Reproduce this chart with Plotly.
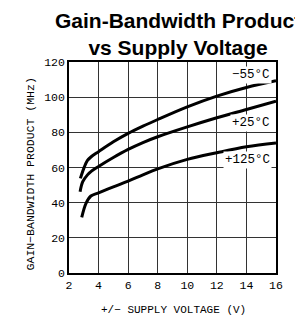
import plotly.graph_objects as go

# Data
x_m55 = [2.77, 3.04, 3.25, 3.5, 4, 5, 6, 7, 8, 10, 12, 14, 16]
y_m55 = [53.8, 60.4, 64.0, 66.1, 69.0, 74.6, 79.4, 83.5, 87.3, 94.5, 100.6, 105.5, 109.3]

x_25 = [2.75, 2.93, 3.25, 3.5, 4, 5, 6, 7, 8, 10, 12, 14, 16]
y_25 = [46.2, 51.9, 55.8, 57.8, 60.6, 65.7, 70.3, 74.2, 77.5, 83.1, 88.3, 93.0, 97.7]

x_125 = [2.86, 3.15, 3.48, 4, 5, 6, 7, 8, 10, 12, 14, 16]
y_125 = [31.6, 39.6, 43.8, 45.6, 49.0, 52.3, 55.8, 59.2, 64.6, 68.4, 71.8, 74.0]

series_labels = ["\u221255\u00b0C", "+25\u00b0C", "+125\u00b0C"]
label_y = [112.7, 85.5, 64.5]

x_ticks = [2, 4, 6, 8, 10, 12, 14, 16]
y_ticks = [0, 20, 40, 60, 80, 100, 120]

MONO = "Liberation Mono"

fig = go.Figure()
for xs, ys in [(x_m55, y_m55), (x_25, y_25), (x_125, y_125)]:
    fig.add_trace(go.Scatter(x=xs, y=ys, mode="lines",
                             line=dict(color="black", width=3, shape="spline", smoothing=1),
                             showlegend=False, hoverinfo="skip"))

for lab, ly in zip(series_labels, label_y):
    fig.add_annotation(x=15.75, y=ly, xref="x", yref="y", text=lab, showarrow=False,
                       xanchor="right", yanchor="middle", bgcolor="white",
                       font=dict(family=MONO, size=12.5, color="black"))

fig.add_annotation(x=(181 - 69) / 212, y=1.135, xref="paper", yref="paper",
                   text="<b>Gain-Bandwidth Product<br>vs Supply Voltage</b>",
                   showarrow=False, xanchor="center", yanchor="middle",
                   font=dict(family="Liberation Sans, Arial", size=21, color="black"))

fig.add_annotation(x=(176 - 69) / 212, y=-0.175, xref="paper", yref="paper",
                   text="+/\u2212 SUPPLY VOLTAGE (V)", showarrow=False,
                   xanchor="center", yanchor="middle",
                   font=dict(family=MONO, size=11, color="black"))

fig.add_annotation(x=(30 - 69) / 212, y=(273 - 173.5) / 211, xref="paper", yref="paper",
                   text="GAIN\u2212BANDWIDTH PRODUCT (MHz)", showarrow=False, textangle=-90,
                   xanchor="center", yanchor="middle",
                   font=dict(family=MONO, size=11.5, color="black"))

fig.update_xaxes(range=[2, 16], tickvals=x_ticks, showgrid=True, gridcolor="#333",
                 gridwidth=1, showline=True, linecolor="black", linewidth=1.5, mirror=True,
                 zeroline=False, ticks="", tickfont=dict(family=MONO, size=11.5, color="black"))
fig.update_yaxes(range=[0, 120], tickvals=y_ticks, showgrid=True, gridcolor="#333",
                 gridwidth=1, showline=True, linecolor="black", linewidth=1.5, mirror=True,
                 zeroline=False, ticks="", tickfont=dict(family=MONO, size=11.5, color="black"))

fig.update_layout(width=295, height=318, margin=dict(l=69, r=14, t=62, b=45),
                  paper_bgcolor="white", plot_bgcolor="white")

fig.write_html("out.html", config={"displayModeBar": False},
               post_script="document.body.style.margin='0';document.body.style.overflow='hidden';")
